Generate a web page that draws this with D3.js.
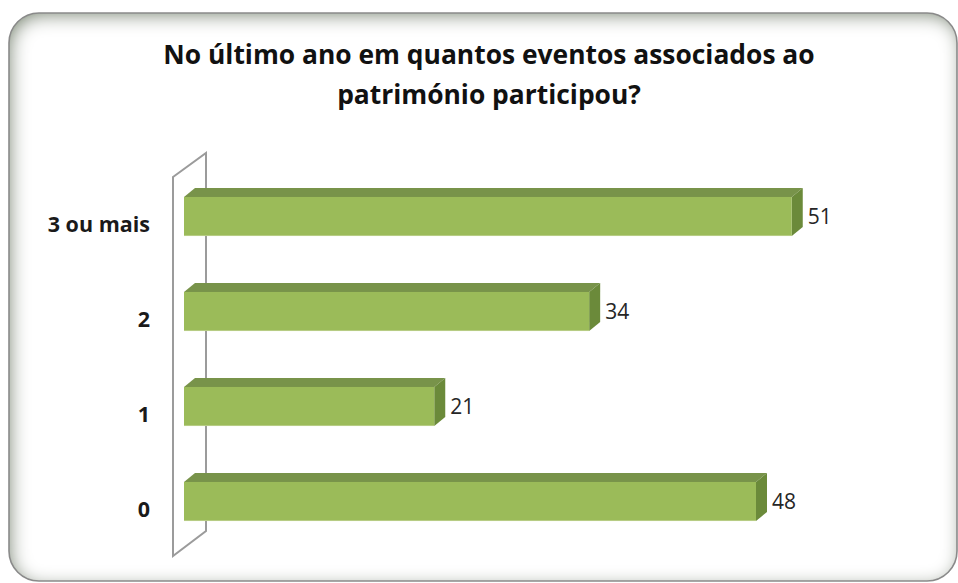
<!DOCTYPE html>
<html>
<head>
<meta charset="utf-8">
<script src="https://cdn.jsdelivr.net/npm/d3@7"></script>
<style>
  html, body { margin: 0; padding: 0; background: #ffffff; }
  svg { display: block; }
</style>
</head>
<body>
<svg id="chart" width="958" height="583"></svg>
<script>
// ---- data ----
const titleLines = ["No último ano em quantos eventos associados ao", "património participou?"];
const categories = ["3 ou mais", "2", "1", "0"];
const values = [51, 34, 21, 48];
const xDomain = [0, 60];

// ---- setup ----
const svg = d3.select("#chart");
const defs = svg.append("defs");

// inner shadow for the rounded frame
const f = defs.append("filter").attr("id", "innerShadow")
  .attr("x", "-10%").attr("y", "-10%").attr("width", "120%").attr("height", "120%");
f.append("feFlood").attr("flood-color", "#74856a").attr("result", "flood");
f.append("feComposite").attr("in", "flood").attr("in2", "SourceAlpha").attr("operator", "out").attr("result", "inv");
f.append("feOffset").attr("in", "inv").attr("dx", 3).attr("dy", 4).attr("result", "off");
f.append("feGaussianBlur").attr("in", "off").attr("stdDeviation", 9).attr("result", "blur");
f.append("feComposite").attr("in", "blur").attr("in2", "SourceAlpha").attr("operator", "in").attr("result", "shadow");
const fm = f.append("feMerge");
fm.append("feMergeNode").attr("in", "SourceGraphic");
fm.append("feMergeNode").attr("in", "shadow");

// frame
svg.append("rect")
  .attr("x", 9).attr("y", 13).attr("width", 948).attr("height", 568)
  .attr("rx", 30).attr("ry", 30)
  .attr("fill", "#ffffff")
  .attr("filter", "url(#innerShadow)");
svg.append("rect")
  .attr("x", 9).attr("y", 13).attr("width", 948).attr("height", 568)
  .attr("rx", 30).attr("ry", 30)
  .attr("fill", "none")
  .attr("stroke", "#8a8a8a").attr("stroke-width", 1.6);

// scales
const x = d3.scaleLinear().domain(xDomain).range([184, 899]);
const y = d3.scaleBand().domain(categories).range([169, 549])
  .paddingInner(0.589).paddingOuter(0.2945);

const dx = 11, dy = 9;

// back wall (3D plane)
const wallL = 173, wallR = 206;
const wTop = y.range()[0] + 8, wBot = y.range()[1] + 7;
svg.append("path")
  .attr("d", `M${wallL},${wTop} L${wallR},${wTop - 24} L${wallR},${wBot - 25} L${wallL},${wBot} Z`)
  .attr("fill", "none")
  .attr("stroke", "#9b9b9b").attr("stroke-width", 2)
  .attr("stroke-linejoin", "miter");

// bars
const data = categories.map((c, i) => ({ c, v: values[i] }));
const g = svg.append("g");
const bar = g.selectAll("g.bar").data(data).join("g").attr("class", "bar");

bar.append("path") // top face
  .attr("d", d => {
    const x0 = x(0), x1 = x(d.v), y0 = y(d.c);
    return `M${x0},${y0} L${x0 + dx},${y0 - dy} L${x1 + dx},${y0 - dy} L${x1},${y0} Z`;
  })
  .attr("fill", "#78934a");

bar.append("path") // side face
  .attr("d", d => {
    const x1 = x(d.v), y0 = y(d.c), y1 = y0 + y.bandwidth();
    return `M${x1},${y0} L${x1 + dx},${y0 - dy} L${x1 + dx},${y1 - dy} L${x1},${y1} Z`;
  })
  .attr("fill", "#6b8a3a");

bar.append("rect") // front face
  .attr("x", x(0))
  .attr("y", d => y(d.c))
  .attr("width", d => x(d.v) - x(0))
  .attr("height", y.bandwidth())
  .attr("fill", "#9bbb59");

bar.append("line") // light lower edge
  .attr("x1", x(0)).attr("x2", d => x(d.v))
  .attr("y1", d => y(d.c) + y.bandwidth() - 0.5)
  .attr("y2", d => y(d.c) + y.bandwidth() - 0.5)
  .attr("stroke", "#b7cd86").attr("stroke-width", 1);

// value labels
bar.append("text")
  .attr("x", d => x(d.v) + dx + 5)
  .attr("y", d => y(d.c) + y.bandwidth() / 2)
  .attr("dy", "0.35em")
  .attr("font-family", "'Open Sans', sans-serif")
  .attr("font-size", 21)
  .attr("fill", "#262626")
  .text(d => d.v);

// category labels (axis)
const yAxis = d3.axisLeft(y).tickSize(0).tickPadding(0);
const ax = svg.append("g").attr("transform", "translate(150,8.5)").call(yAxis);
ax.select(".domain").remove();
ax.selectAll("text")
  .attr("font-family", "'Open Sans', sans-serif")
  .attr("font-weight", "bold")
  .attr("font-size", 21.5)
  .attr("fill", "#1a1a1a");

// title
const title = svg.append("g");
titleLines.forEach((t, i) => {
  title.append("text")
    .attr("x", 489)
    .attr("y", 64 + i * 40)
    .attr("text-anchor", "middle")
    .attr("font-family", "'Open Sans', sans-serif")
    .attr("font-weight", "bold")
    .attr("font-size", 26.4)
    .attr("fill", "#111111")
    .text(t);
});
</script>
</body>
</html>
